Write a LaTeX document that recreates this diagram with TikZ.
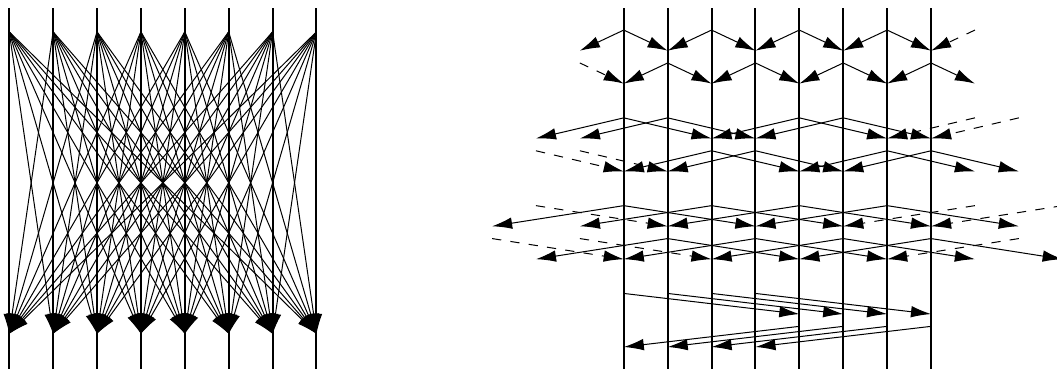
\documentclass[tikz,border=0pt]{standalone}
\usetikzlibrary{arrows.meta}
\begin{document}
\begin{tikzpicture}[>={Latex[length=13pt,width=7.5pt]},
	proc/.style={line width=1.3pt},
	msg/.style={->,line width=0.65pt},
	wrap/.style={msg,dash pattern=on 6pt off 6pt}]
	\useasboundingbox (0,0) rectangle (24.08,8.405);
	
	% Processes, left and right
	\foreach \i in {0,...,7} {
		\draw[proc] (0.21+\i,0) -- (0.21+\i,8.23);
		\draw[proc] (14.21+\i,0) -- (14.21+\i,8.23);
	}
	
	% All to all
	\foreach \i in {0,...,7} {
		\coordinate (top\i) at (0.21+\i,7.68);
		\coordinate (bot\i) at (0.21+\i,0.8);
	}
	\foreach \i in {0,...,7}
		\foreach \j in {0,...,7}
			\draw[msg] (top\i) -- (bot\j);
	
	% Exchange with neighbours at distance 1, 2, 3
	\foreach \row/\y/\d/\senders in {1/7.72/1/{0,2,4,6}, 2/6.97/1/{1,3,5,7},
		3/5.72/2/{0,1,4,5}, 4/4.97/2/{2,3,6,7},
		5/3.72/3/{0,2,4,6}, 6/2.97/3/{1,3,5,7}} {
		\foreach \s in \senders {
			\coordinate (from) at (14.21+\s,\y);
			\coordinate (left) at (14.21+\s-\d,\y-0.47);
			\coordinate (right) at (14.21+\s+\d,\y-0.47);
			\draw[msg] (from) -- (left);
			\draw[msg] (from) -- (right);
			% wrap around
			\pgfmathtruncatemacro\hi{\s+8-\d}
			\pgfmathtruncatemacro\lo{\s-8+\d}
			\ifnum\hi<8
				\coordinate (image) at (14.21+\s+8,\y);
				\coordinate (to) at (14.21+\hi,\y-0.47);
				\draw[wrap] (image) -- (to);
			\fi
			\ifnum\lo>-1
				\coordinate (image) at (14.21+\s-8,\y);
				\coordinate (to) at (14.21+\lo,\y-0.47);
				\draw[wrap] (image) -- (to);
			\fi
		}
	}
	
	% Halves swap at distance 4
	\foreach \s in {0,...,3} {
		\coordinate (from) at (14.21+\s,1.72);
		\coordinate (to) at (14.21+\s+4,1.25);
		\draw[msg] (from) -- (to);
	}
	\foreach \s in {4,...,7} {
		\coordinate (from) at (14.21+\s,0.97);
		\coordinate (to) at (14.21+\s-4,0.50);
		\draw[msg] (from) -- (to);
	}
\end{tikzpicture}
\end{document}
